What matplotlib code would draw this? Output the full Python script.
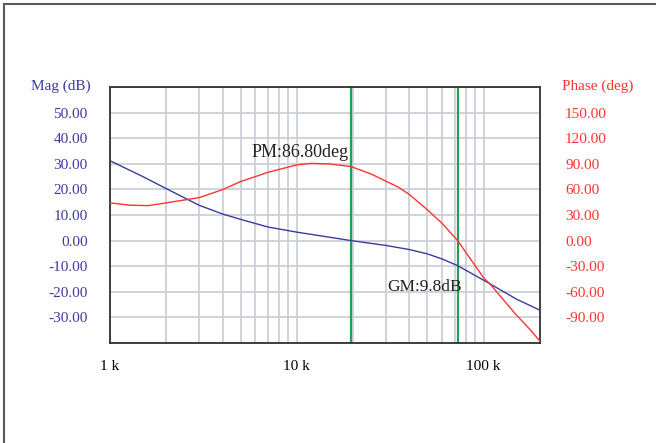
import matplotlib.pyplot as plt
from matplotlib.lines import Line2D
from matplotlib.ticker import FixedLocator, FuncFormatter, NullFormatter

# Bode plot data (frequency in kHz)
mag_freq = [1, 1.5, 2, 3, 4, 5, 7, 10, 15, 19.5, 30, 40, 50, 60, 72.5, 100, 150, 200]
mag_db = [31.2, 25.0, 20.3, 13.8, 10.4, 8.3, 5.3, 3.3, 1.3, 0.0, -1.9, -3.5, -5.2, -7.2,
          -9.8, -15.5, -22.9, -27.2]

phase_freq = [1, 1.28, 1.6, 2, 3, 4, 5, 7, 10, 12, 15, 19.5, 25, 30, 35, 40, 50, 60, 72.5,
              100, 108, 147, 180, 200]
phase_deg = [44.2, 41.5, 41.0, 44.2, 50.4, 59.7, 69.2, 80.0, 88.8, 90.5, 89.8, 86.8, 78.0,
             69.6, 62.5, 54.0, 36.0, 20.0, 0.0, -43.8, -50.8, -85.4, -106.0, -118.0]

marker_freq = [19.5, 72.5]   # crossover / phase-crossover frequencies
mag_ticks = [50, 40, 30, 20, 10, 0, -10, -20, -30]
phase_ticks = [150, 120, 90, 60, 30, 0, -30, -60, -90]
x_ticks = [1, 10, 100]
x_labels = ['1 k', '10 k', '100 k']

W, H = 656, 443
BLUE = '#3b3ba0'
RED = '#ff3333'
GRID = '#c9ccd4'
SERIF = 'Liberation Serif'

fig = plt.figure(figsize=(W / 100, H / 100), dpi=100)
ax = fig.add_axes([110 / W, 1 - 343 / H, 430 / W, 256 / H])

ax.set_xscale('log')
ax.set_xlim(1, 200)
ax.set_ylim(-40, 60)

# grid: horizontal every 10 dB, vertical on the log decades
minor = [m * d for d in (1, 10, 100) for m in range(2, 10) if m * d < 200]
ax.xaxis.set_major_locator(FixedLocator(x_ticks))
ax.xaxis.set_minor_locator(FixedLocator(minor))
ax.xaxis.set_minor_formatter(NullFormatter())
ax.xaxis.set_major_formatter(FuncFormatter(lambda v, p: x_labels[x_ticks.index(v)] if v in x_ticks else ''))
ax.yaxis.set_major_locator(FixedLocator(range(-40, 61, 10)))
ax.yaxis.set_major_formatter(FuncFormatter(lambda v, p: f'{v:.2f}' if v in mag_ticks else ''))
ax.grid(True, which='both', color=GRID, linewidth=1.2)
ax.set_axisbelow(True)

ax.tick_params(axis='both', which='both', length=0)
ax.tick_params(axis='x', pad=12, labelsize=11)
ax.tick_params(axis='y', pad=16, labelsize=11, labelcolor=BLUE)
for lab in ax.get_xticklabels() + ax.get_yticklabels():
    lab.set_family(SERIF)

for sp in ax.spines.values():
    sp.set_color('#303030')
    sp.set_linewidth(1.3)

for f in marker_freq:
    ax.axvline(f, color='#22a055', linewidth=1.6, zorder=2)

ax.plot(mag_freq, mag_db, color=BLUE, linewidth=1.0, zorder=3)

ax2 = ax.twinx()
ax2.set_ylim(-120, 180)
ax2.yaxis.set_major_locator(FixedLocator(phase_ticks))
ax2.yaxis.set_major_formatter(FuncFormatter(lambda v, p: f'{v:.2f}'))
ax2.tick_params(axis='y', length=0, pad=18, labelsize=11, labelcolor=RED)
for lab in ax2.get_yticklabels():
    lab.set_family(SERIF)
for sp in ax2.spines.values():
    sp.set_visible(False)
ax2.plot(phase_freq, phase_deg, color=RED, linewidth=1.0, zorder=3)

ax.text(0.330, 0.745, 'PM:86.80deg', transform=ax.transAxes, fontsize=13,
        family=SERIF, color='#222222', ha='left', va='center', zorder=5)
ax.text(0.645, 0.22, 'GM:9.8dB', transform=ax.transAxes, fontsize=12.5,
        family=SERIF, color='#222222', ha='left', va='center', zorder=5)

fig.text(61 / W, 1 - 86 / H, 'Mag (dB)', ha='center', va='center', fontsize=11,
         family=SERIF, color=BLUE)
fig.text(598 / W, 1 - 86 / H, 'Phase (deg)', ha='center', va='center', fontsize=11,
         family=SERIF, color=RED)

# outer frame (top and left edges only)
fig.add_artist(Line2D([4 / W, 1], [1 - 4 / H, 1 - 4 / H], color='#5a5a5a', linewidth=1.5))
fig.add_artist(Line2D([4 / W, 4 / W], [0, 1 - 4 / H], color='#5a5a5a', linewidth=1.5))

fig.savefig('out.png', dpi=100)
